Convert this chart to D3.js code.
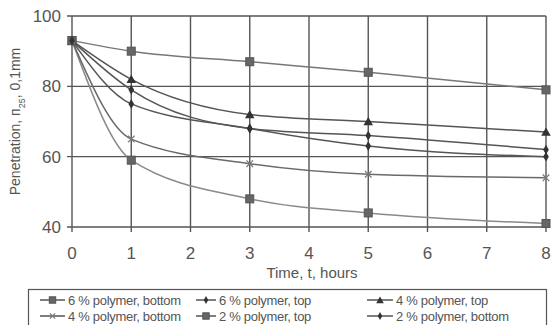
<!DOCTYPE html>
<html>
<head>
<meta charset="utf-8">
<script src="https://cdn.jsdelivr.net/npm/d3@7"></script>
<style>
  body { margin: 0; background: #fff; }
  svg text { font-family: "Liberation Sans Narrow", "Liberation Sans", Arial, sans-serif; fill: #555; }
</style>
</head>
<body>
<div id="chart"></div>
<script>
// time points, hours
const hours = [0, 1, 3, 5, 8];
const seriesNames = [
    '6 % polymer, bottom', '6 % polymer, top', '4 % polymer, top',
    '4 % polymer, bottom', '2 % polymer, top', '2 % polymer, bottom'
];
const sixBottom = [93, 59, 48, 44, 41];
const sixTop = [93, 79, 68, 66, 62];
const fourTop = [93, 82, 72, 70, 67];
const fourBottom = [93, 65, 58, 55, 54];
const twoTop = [93, 90, 87, 84, 79];
const twoBottom = [93, 75, 68, 63, 60];
const xTicks = [0, 1, 2, 3, 4, 5, 6, 7, 8];
const yTicks = [40, 60, 80, 100];

const series = [
    { name: seriesNames[0], values: sixBottom, marker: 'square', color: '#8a8a8a' },
    { name: seriesNames[1], values: sixTop, marker: 'diamond', color: '#555' },
    { name: seriesNames[2], values: fourTop, marker: 'triangle', color: '#555' },
    { name: seriesNames[3], values: fourBottom, marker: 'cross', color: '#6a6a6a' },
    { name: seriesNames[4], values: twoTop, marker: 'square', color: '#777' },
    { name: seriesNames[5], values: twoBottom, marker: 'diamond', color: '#555' }
];

const width = 551, height = 325;
const margin = { top: 16, left: 72, right: 5, bottom: 98 };

const svg = d3.select('#chart').append('svg')
    .attr('width', width)
    .attr('height', height);

const x = d3.scaleLinear().domain([0, 8]).range([margin.left, width - margin.right]);
const y = d3.scaleLinear().domain([40, 100]).range([height - margin.bottom, margin.top]);

// grid
const grid = svg.append('g').attr('stroke', '#555').attr('stroke-width', 1.4);
grid.selectAll('.hg').data(yTicks).enter().append('line')
    .attr('x1', x(0) - 5).attr('x2', x(8))
    .attr('y1', d => y(d)).attr('y2', d => y(d));
grid.selectAll('.vg').data(xTicks).enter().append('line')
    .attr('x1', d => x(d)).attr('x2', d => x(d))
    .attr('y1', y(100)).attr('y2', y(40) + 5);

// tick labels
svg.append('g').selectAll('text').data(yTicks).enter().append('text')
    .attr('x', x(0) - 11)
    .attr('y', d => y(d))
    .attr('dy', '0.35em')
    .attr('text-anchor', 'end')
    .style('font-size', '17px')
    .text(d => d);
svg.append('g').selectAll('text').data(xTicks).enter().append('text')
    .attr('x', d => x(d))
    .attr('y', y(40) + 26)
    .attr('dy', '0.35em')
    .attr('text-anchor', 'middle')
    .style('font-size', '17px')
    .text(d => d);

svg.append('text')
    .attr('x', 312).attr('y', 273)
    .attr('dy', '0.35em')
    .attr('text-anchor', 'middle')
    .style('font-size', '15px')
    .text('Time, t, hours');

const yl = svg.append('text')
    .attr('transform', `translate(15,${(y(40) + y(100)) / 2}) rotate(-90)`)
    .attr('text-anchor', 'middle')
    .attr('dy', '0.35em')
    .style('font-size', '14px');
yl.append('tspan').text('Penetration, п');
yl.append('tspan').attr('baseline-shift', 'sub').style('font-size', '9px').text('25');
yl.append('tspan').text(', 0,1mm');

// lines
const line = d3.line()
    .x((d, i) => x(hours[i]))
    .y(d => y(d))
    .curve(d3.curveMonotoneX);

svg.append('g').selectAll('path').data(series).enter().append('path')
    .attr('d', d => line(d.values))
    .attr('fill', 'none')
    .attr('stroke', d => d.color)
    .attr('stroke-width', 1.5);

function drawMarker(g, type, cx, cy, s) {
    if (type === 'square') {
        g.append('rect').attr('x', cx - 4 * s).attr('y', cy - 4 * s)
            .attr('width', 8 * s).attr('height', 8 * s)
            .attr('fill', '#666').attr('stroke', '#555');
    } else if (type === 'diamond') {
        g.append('path').attr('d', d3.symbol(d3.symbolDiamond, 28 * s * s)())
            .attr('transform', `translate(${cx},${cy})`).attr('fill', '#333');
    } else if (type === 'triangle') {
        g.append('path').attr('d', d3.symbol(d3.symbolTriangle, 40 * s * s)())
            .attr('transform', `translate(${cx},${cy + 1})`).attr('fill', '#333');
    } else {
        g.append('path').attr('d', d3.symbol(d3.symbolTimes, 30 * s * s)())
            .attr('transform', `translate(${cx},${cy})`)
            .attr('fill', 'none').attr('stroke', '#777').attr('stroke-width', 1.2);
    }
}

const marks = svg.append('g');
series.forEach(s => {
    s.values.forEach((v, i) => {
        drawMarker(marks, s.marker, x(hours[i]), y(v), 1);
    });
});

// legend
const legend = svg.append('g');
legend.append('rect')
    .attr('x', 28.5).attr('y', 289.5)
    .attr('width', 518).attr('height', 40)
    .attr('fill', 'none').attr('stroke', '#555').attr('stroke-width', 1.2);
const colX = [40, 196, 367];
const colText = [68, 219, 396];
const rowY = [300, 316];
series.forEach((s, i) => {
    const c = i % 3, cy = rowY[Math.floor(i / 3)];
    const x1 = colX[c], x2 = colText[c] - 3;
    const g = legend.append('g');
    g.append('line').attr('x1', x1).attr('x2', x2)
        .attr('y1', cy).attr('y2', cy)
        .attr('stroke', '#555').attr('stroke-width', 1.5);
    drawMarker(g, s.marker, (x1 + x2) / 2, cy, 0.8);
    g.append('text').attr('x', colText[c]).attr('y', cy)
        .attr('dy', '0.35em')
        .style('font-size', '13px')
        .style('letter-spacing', '-0.3px')
        .text(s.name);
});
</script>
</body>
</html>
